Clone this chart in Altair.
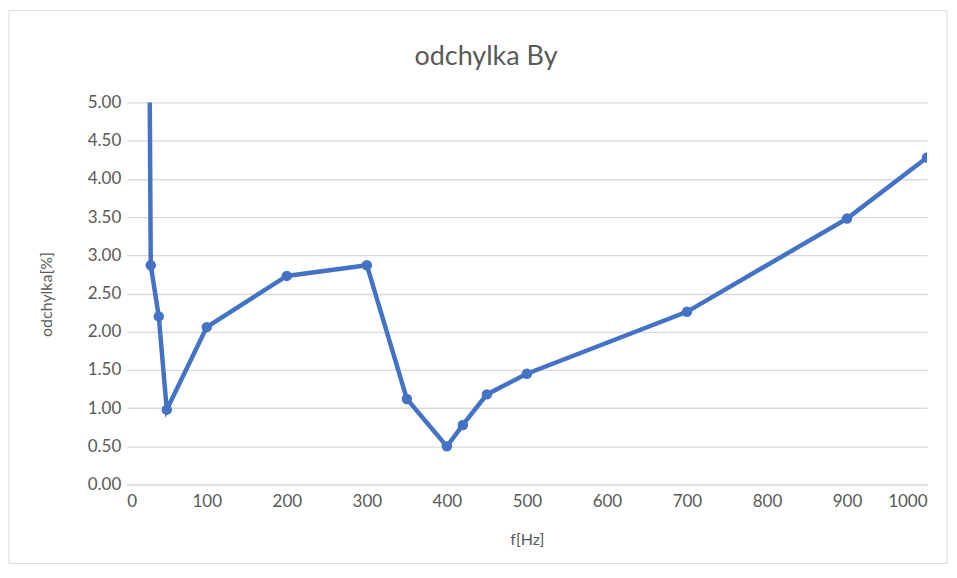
import altair as alt
import pandas as pd

freq = [20, 30, 40, 50, 100, 200, 300, 350, 400, 420, 450, 500, 700, 900, 1000]
dev = [20.0, 2.87, 2.20, 0.98, 2.06, 2.73, 2.87, 1.12, 0.50, 0.78, 1.18, 1.45, 2.26, 3.48, 4.28]
x_ticks = [0, 100, 200, 300, 400, 500, 600, 700, 800, 900, 1000]
y_ticks = [0, 0.5, 1, 1.5, 2, 2.5, 3, 3.5, 4, 4.5, 5]
title_text = ["odchylka By"]

df = pd.DataFrame({"f": freq, "d": dev})
FONT = "Lato"
GRAY = "#595959"

x = alt.X("f:Q", title="f[Hz]",
          scale=alt.Scale(domain=[0, 1000], nice=False),
          axis=alt.Axis(values=x_ticks, format="d", grid=False, ticks=False, domain=True,
                        domainColor="#d9d9d9", labelFontSize=17, labelColor=GRAY,
                        labelFont=FONT, labelPadding=9, titleFont=FONT,
                        titleFontSize=16, titleColor=GRAY, titleFontWeight="normal",
                        titleY=55, titleBaseline="middle"))
y = alt.Y("d:Q", title="odchylka[%]",
          scale=alt.Scale(domain=[0, 5], nice=False),
          axis=alt.Axis(values=y_ticks, format=".2f", grid=True, gridColor="#d9d9d9",
                        gridWidth=1.3, ticks=False, domain=False, labelFontSize=17,
                        labelColor=GRAY, labelFont=FONT, labelPadding=6,
                        titleFont=FONT, titleFontSize=16, titleColor=GRAY,
                        titleFontWeight="normal", titleX=-80, titleY=192,
                        titleBaseline="middle"))

border = alt.Chart(pd.DataFrame({"a": [0]})).mark_rect(
    fill=None, stroke="#d9d9d9", strokeWidth=1, clip=False
).encode(x=alt.value(-118), x2=alt.value(822), y=alt.value(-92), y2=alt.value(462))

title = alt.Chart(pd.DataFrame({"t": title_text})).mark_text(
    font=FONT, fontSize=27, color=GRAY, align="center", baseline="middle", clip=False
).encode(text="t:N", x=alt.value(360), y=alt.value(-45))

line = alt.Chart(df).mark_line(color="#4472C4", strokeWidth=4.5, clip=True).encode(x=x, y=y)
pts = alt.Chart(df).mark_point(filled=True, color="#4472C4", size=110, opacity=1, clip=True).encode(x=x, y=y)

chart = alt.layer(border, title, line, pts).properties(
    width=802, height=383,
    autosize=alt.AutoSizeParams(type="none"),
    padding={"left": 119, "top": 94, "right": 22, "bottom": 80},
).configure_view(stroke=None)

chart.save("out.html", embed_options={"renderer": "svg", "actions": False})
